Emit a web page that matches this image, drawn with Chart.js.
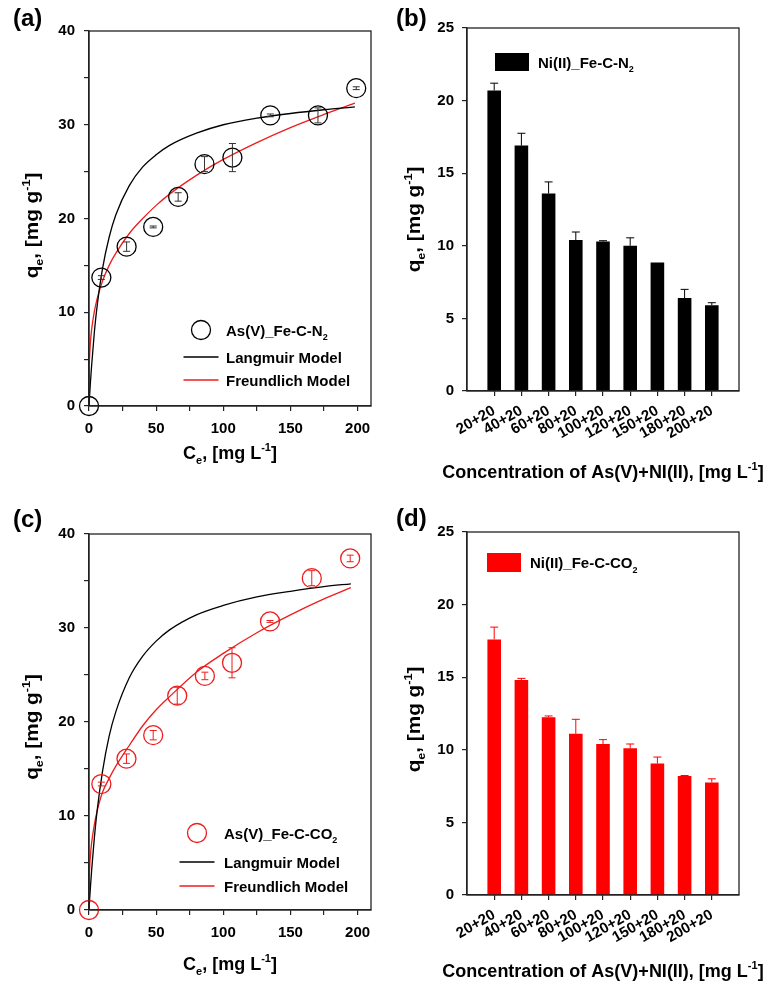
<!DOCTYPE html>
<html>
<head>
<meta charset="utf-8">
<script src="https://cdn.jsdelivr.net/npm/chart.js@4.4.1/dist/chart.umd.min.js"></script>
<style>
  body { margin: 0; background: #fff; }
  #wrap { position: relative; width: 764px; height: 982px; overflow: hidden; background: #fff; }
  canvas { position: absolute; }
  .tag { position: absolute; font: bold 24px 'Liberation Sans', Arial, sans-serif; line-height: 24px; color: #000; }
</style>
</head>
<body>
<div id="wrap">
  <canvas id="chartA" width="382" height="490" style="left:0;top:0"></canvas>
  <canvas id="chartB" width="382" height="490" style="left:382px;top:0"></canvas>
  <canvas id="chartC" width="382" height="492" style="left:0;top:490px"></canvas>
  <canvas id="chartD" width="382" height="492" style="left:382px;top:490px"></canvas>
  <div class="tag" style="left:13px;top:6px">(a)</div>
  <div class="tag" style="left:396px;top:6px">(b)</div>
  <div class="tag" style="left:13px;top:507px">(c)</div>
  <div class="tag" style="left:396px;top:506px">(d)</div>
</div>
<script>
// (a) As(V) on Fe-C-N2
const ceA = [0, 9.2, 28, 47.8, 66.4, 86, 106.8, 135, 170.5, 199];
const qeA = [0, 13.7, 17.0, 19.1, 22.3, 25.8, 26.5, 31.0, 31.0, 33.9];
const errA = [0, 0.2, 0.5, 0.1, 0.45, 0.8, 1.5, 0.15, 0.8, 0.15];
const fitCeA = [0, 0.2, 0.5, 1, 2, 4, 6, 10, 15, 20, 30, 40, 50, 60, 80, 100, 125, 150, 175, 198];
const langA = [0, 0.5, 1.2, 2.4, 4.4, 7.9, 10.6, 14.6, 18.0, 20.4, 23.5, 25.5, 26.8, 27.8, 29.1, 30.0, 30.7, 31.2, 31.6, 31.9];
const freuA = [0, 4.1, 5.4, 6.7, 8.2, 10.1, 11.4, 13.3, 15.0, 16.3, 18.4, 20.0, 21.4, 22.6, 24.6, 26.3, 28.1, 29.7, 31.1, 32.3];

// (c) As(V) on Fe-C-CO2
const ceC = [0, 9.2, 27.9, 47.8, 65.7, 86.3, 106.5, 134.8, 165.9, 194.5];
const qeC = [0, 13.4, 16.1, 18.6, 22.8, 24.9, 26.3, 30.7, 35.3, 37.4];
const errC = [0, 0.2, 0.5, 0.5, 0.9, 0.4, 1.6, 0.1, 0.8, 0.35];
const fitCeC = [0, 0.2, 0.5, 1, 2, 4, 6, 10, 15, 20, 30, 40, 50, 60, 80, 100, 125, 150, 175, 195];
const langC = [0, 0.5, 1.2, 2.3, 4.3, 7.7, 10.5, 14.7, 18.5, 21.1, 24.7, 27.0, 28.6, 29.8, 31.4, 32.4, 33.3, 33.9, 34.4, 34.7];
const freuC = [0, 3.3, 4.5, 5.7, 7.2, 9.1, 10.5, 12.5, 14.0, 15.3, 17.5, 19.6, 21.3, 22.7, 25.3, 27.3, 29.5, 31.4, 33.1, 34.3];

// (b) / (d) Ni(II) in binary solution
const mixLabels = ['20+20', '40+20', '60+20', '80+20', '100+20', '120+20', '150+20', '180+20', '200+20'];
const qeB = [20.7, 16.9, 13.6, 10.4, 10.3, 10.0, 8.85, 6.4, 5.9];
const errB = [0.5, 0.85, 0.8, 0.55, 0.05, 0.55, 0, 0.6, 0.18];
const qeD = [17.6, 14.8, 12.25, 11.1, 10.4, 10.1, 9.05, 8.2, 7.75];
const errD = [0.85, 0.12, 0.08, 1.0, 0.3, 0.3, 0.45, 0.03, 0.25];

const FONT = "'Liberation Sans', Arial, sans-serif";
const AXIS = '#222';
const RED = '#ee1c1c';

// text with _{sub} and ^{sup} pieces
function parseRich(str) {
  const parts = [];
  const re = /([_^])\{([^}]*)\}/g;
  let last = 0, m;
  while ((m = re.exec(str))) {
    if (m.index > last) parts.push({ t: str.slice(last, m.index), k: 'n' });
    parts.push({ t: m[2], k: m[1] === '_' ? 'sub' : 'sup' });
    last = re.lastIndex;
  }
  if (last < str.length) parts.push({ t: str.slice(last), k: 'n' });
  return parts;
}

function drawRich(ctx, str, x, y, size, align) {
  const parts = parseRich(str);
  const small = Math.round(size * 0.62);
  const fontFor = p => `bold ${p.k === 'n' ? size : small}px ${FONT}`;
  let w = 0;
  parts.forEach(p => { ctx.font = fontFor(p); p.w = ctx.measureText(p.t).width; w += p.w; });
  let cx = align === 'center' ? x - w / 2 : x;
  ctx.textAlign = 'left';
  ctx.textBaseline = 'alphabetic';
  parts.forEach(p => {
    ctx.font = fontFor(p);
    const dy = p.k === 'sub' ? size * 0.3 : p.k === 'sup' ? -size * 0.42 : 0;
    ctx.fillText(p.t, cx, y + dy);
    cx += p.w;
  });
}

const framePlugin = {
  id: 'frame',
  afterDraw(chart) {
    const { ctx, chartArea: a } = chart;
    ctx.save();
    ctx.strokeStyle = AXIS;
    ctx.lineWidth = 1.3;
    ctx.strokeRect(a.left, a.top, a.right - a.left, a.bottom - a.top);
    ctx.restore();
  }
};

const errorBarPlugin = {
  id: 'errorBars',
  afterDatasetsDraw(chart) {
    const { ctx } = chart;
    const yScale = chart.scales.y;
    chart.data.datasets.forEach((ds, i) => {
      if (!ds.errors) return;
      const meta = chart.getDatasetMeta(i);
      ctx.save();
      ctx.strokeStyle = ds.errorColor;
      ctx.lineWidth = 1;
      meta.data.forEach((el, j) => {
        const e = ds.errors[j];
        if (!e) return;
        const v = ds.data[j].y;
        const top = yScale.getPixelForValue(v + e);
        const bot = ds.upOnly ? el.y : yScale.getPixelForValue(v - e);
        const cap = ds.capHalf;
        ctx.beginPath();
        ctx.moveTo(el.x, top); ctx.lineTo(el.x, bot);
        ctx.moveTo(el.x - cap, top); ctx.lineTo(el.x + cap, top);
        if (!ds.upOnly) { ctx.moveTo(el.x - cap, bot); ctx.lineTo(el.x + cap, bot); }
        ctx.stroke();
      });
      ctx.restore();
    });
  }
};

const titlePlugin = {
  id: 'richTitles',
  afterDraw(chart, args, opts) {
    const { ctx, chartArea: a } = chart;
    ctx.save();
    ctx.fillStyle = '#000';
    drawRich(ctx, opts.x, (a.left + a.right) / 2, a.bottom + opts.xGap, opts.size, 'center');
    ctx.translate(opts.yPos, (a.top + a.bottom) / 2 + opts.yShift);
    ctx.rotate(-Math.PI / 2);
    ctx.scale(opts.yStretch || 1, 1);
    drawRich(ctx, opts.y, 0, 0, opts.size, 'center');
    ctx.restore();
  }
};

const legendPlugin = {
  id: 'boxLegend',
  afterDraw(chart, args, opts) {
    const { ctx, chartArea: a } = chart;
    ctx.save();
    chart.data.datasets.forEach((ds, i) => {
      const y = a.top + opts.rows[i];
      const sx = a.left + opts.symX;
      if (chart.config.type === 'bar') {
        ctx.fillStyle = ds.backgroundColor;
        ctx.fillRect(sx - opts.symW / 2, y - opts.symH / 2, opts.symW, opts.symH);
      } else if (ds.showLine === false) {
        ctx.strokeStyle = ds.borderColor;
        ctx.lineWidth = ds.borderWidth;
        ctx.beginPath();
        ctx.arc(sx, y, ds.pointRadius, 0, Math.PI * 2);
        ctx.stroke();
      } else {
        ctx.strokeStyle = ds.borderColor;
        ctx.lineWidth = ds.borderWidth;
        ctx.beginPath();
        ctx.moveTo(sx - opts.symW / 2, y);
        ctx.lineTo(sx + opts.symW / 2, y);
        ctx.stroke();
      }
      ctx.fillStyle = '#000';
      drawRich(ctx, ds.label, a.left + opts.textX, y + 5.5, opts.size, 'left');
    });
    ctx.restore();
  }
};

function axisStyle(extra) {
  return Object.assign({
    grid: { drawOnChartArea: false, drawTicks: true, tickLength: 5, color: AXIS, lineWidth: 1.2 },
    border: { display: true, color: AXIS, width: 1.3 }
  }, extra);
}

function tickFont(size) {
  return { family: FONT, size: size, weight: 'bold' };
}

function isotherm(id, pad, ce, qe, err, fitCe, lang, freu, color, label, titles, legend) {
  const pts = ce.map((x, i) => ({ x, y: qe[i] }));
  new Chart(document.getElementById(id), {
    type: 'scatter',
    data: {
      datasets: [
        {
          label: label,
          data: pts,
          showLine: false,
          pointRadius: 9.5,
          borderWidth: 1.3,
          borderColor: color,
          backgroundColor: 'rgba(0,0,0,0)',
          clip: false,
          errors: err,
          errorColor: color === '#000' ? '#333' : color,
          capHalf: 3.5
        },
        {
          label: 'Langmuir Model',
          data: fitCe.map((x, i) => ({ x, y: lang[i] })),
          showLine: true,
          pointRadius: 0,
          borderColor: '#000',
          borderWidth: 1.3,
          cubicInterpolationMode: 'monotone'
        },
        {
          label: 'Freundlich Model',
          data: fitCe.map((x, i) => ({ x, y: freu[i] })),
          showLine: true,
          pointRadius: 0,
          borderColor: RED,
          borderWidth: 1.3,
          cubicInterpolationMode: 'monotone'
        }
      ]
    },
    options: {
      responsive: false,
      animation: false,
      devicePixelRatio: 1,
      events: [],
      layout: { padding: pad.box },
      scales: {
        x: axisStyle({
          type: 'linear', min: 0, max: 210,
          afterFit: s => { s.height = pad.xh; },
          ticks: {
            stepSize: 25, includeBounds: false, maxRotation: 0, padding: 9, color: '#000',
            font: tickFont(15), callback: v => (v % 50 === 0 ? v : '')
          }
        }),
        y: axisStyle({
          min: 0, max: 40,
          afterFit: s => { s.width = pad.yw; },
          ticks: {
            stepSize: 5, padding: 9, color: '#000',
            font: tickFont(15), callback: v => (v % 10 === 0 ? v : '')
          }
        })
      },
      plugins: {
        legend: { display: false },
        tooltip: { enabled: false },
        richTitles: titles,
        boxLegend: legend
      }
    },
    plugins: [framePlugin, errorBarPlugin, titlePlugin, legendPlugin]
  });
}

function mixture(id, pad, qe, err, color, label, titles, legend) {
  new Chart(document.getElementById(id), {
    type: 'bar',
    data: {
      datasets: [{
        label: label,
        data: qe.map((y, i) => ({ x: i + 1, y })),
        backgroundColor: color,
        borderWidth: 0,
        categoryPercentage: 1,
        barPercentage: 0.5,
        errors: err,
        errorColor: color,
        upOnly: true,
        capHalf: 4
      }]
    },
    options: {
      responsive: false,
      animation: false,
      devicePixelRatio: 1,
      events: [],
      layout: { padding: pad.box },
      scales: {
        x: axisStyle({
          type: 'linear', min: 0, max: 10, offset: false,
          afterFit: s => { s.height = pad.xh; },
          grid: {
            drawOnChartArea: false, drawTicks: true, tickLength: 5, lineWidth: 1.2, offset: false,
            tickColor: c => (c.tick && (c.tick.value === 0 || c.tick.value === 10) ? 'rgba(0,0,0,0)' : AXIS)
          },
          ticks: {
            stepSize: 1, autoSkip: false, minRotation: 30, maxRotation: 30, padding: 6, color: '#000',
            font: tickFont(15), callback: v => mixLabels[v - 1] || ''
          }
        }),
        y: axisStyle({
          min: 0, max: 25,
          afterFit: s => { s.width = pad.yw; },
          ticks: { stepSize: 5, padding: 8, color: '#000', font: tickFont(15) }
        })
      },
      plugins: {
        legend: { display: false },
        tooltip: { enabled: false },
        richTitles: titles,
        boxLegend: legend
      }
    },
    plugins: [framePlugin, errorBarPlugin, titlePlugin, legendPlugin]
  });
}

const qTitle = 'q_{e}, [mg g^{-1}]';
const cTitle = 'C_{e}, [mg L^{-1}]';
const mixTitle = 'Concentration of As(V)+NI(II), [mg L^{-1}]';

isotherm('chartA', { box: { top: 31, right: 11, left: 0, bottom: 0 }, yw: 89, xh: 84 },
  ceA, qeA, errA, fitCeA, langA, freuA, '#000', 'As(V)_Fe-C-N_{2}',
  { x: cTitle, y: qTitle, size: 18, xGap: 53, yPos: 38, yShift: 7, yStretch: 1.15 },
  { rows: [299, 326, 349], symX: 112, symW: 35, textX: 137, size: 15 });

isotherm('chartC', { box: { top: 44, right: 11, left: 0, bottom: 0 }, yw: 89, xh: 72 },
  ceC, qeC, errC, fitCeC, langC, freuC, RED, 'As(V)_Fe-C-CO_{2}',
  { x: cTitle, y: qTitle, size: 18, xGap: 60, yPos: 38, yShift: 5, yStretch: 1.15 },
  { rows: [299, 328, 352], symX: 108, symW: 35, textX: 135, size: 15 });

mixture('chartB', { box: { top: 28, right: 25, left: 0, bottom: 0 }, yw: 85, xh: 99 },
  qeB, errB, '#000', 'Ni(II)_Fe-C-N_{2}',
  { x: mixTitle, y: qTitle, size: 18, xGap: 87, yPos: 38, yShift: 10, yStretch: 1.15 },
  { rows: [34], symX: 45, symW: 34, symH: 18, textX: 71, size: 15 });

mixture('chartD', { box: { top: 42, right: 25, left: 0, bottom: 0 }, yw: 85, xh: 87 },
  qeD, errD, '#ff0000', 'Ni(II)_Fe-C-CO_{2}',
  { x: mixTitle, y: qTitle, size: 18, xGap: 82, yPos: 38, yShift: 6, yStretch: 1.15 },
  { rows: [30.5], symX: 37, symW: 34, symH: 19, textX: 63, size: 15 });
</script>
</body>
</html>
